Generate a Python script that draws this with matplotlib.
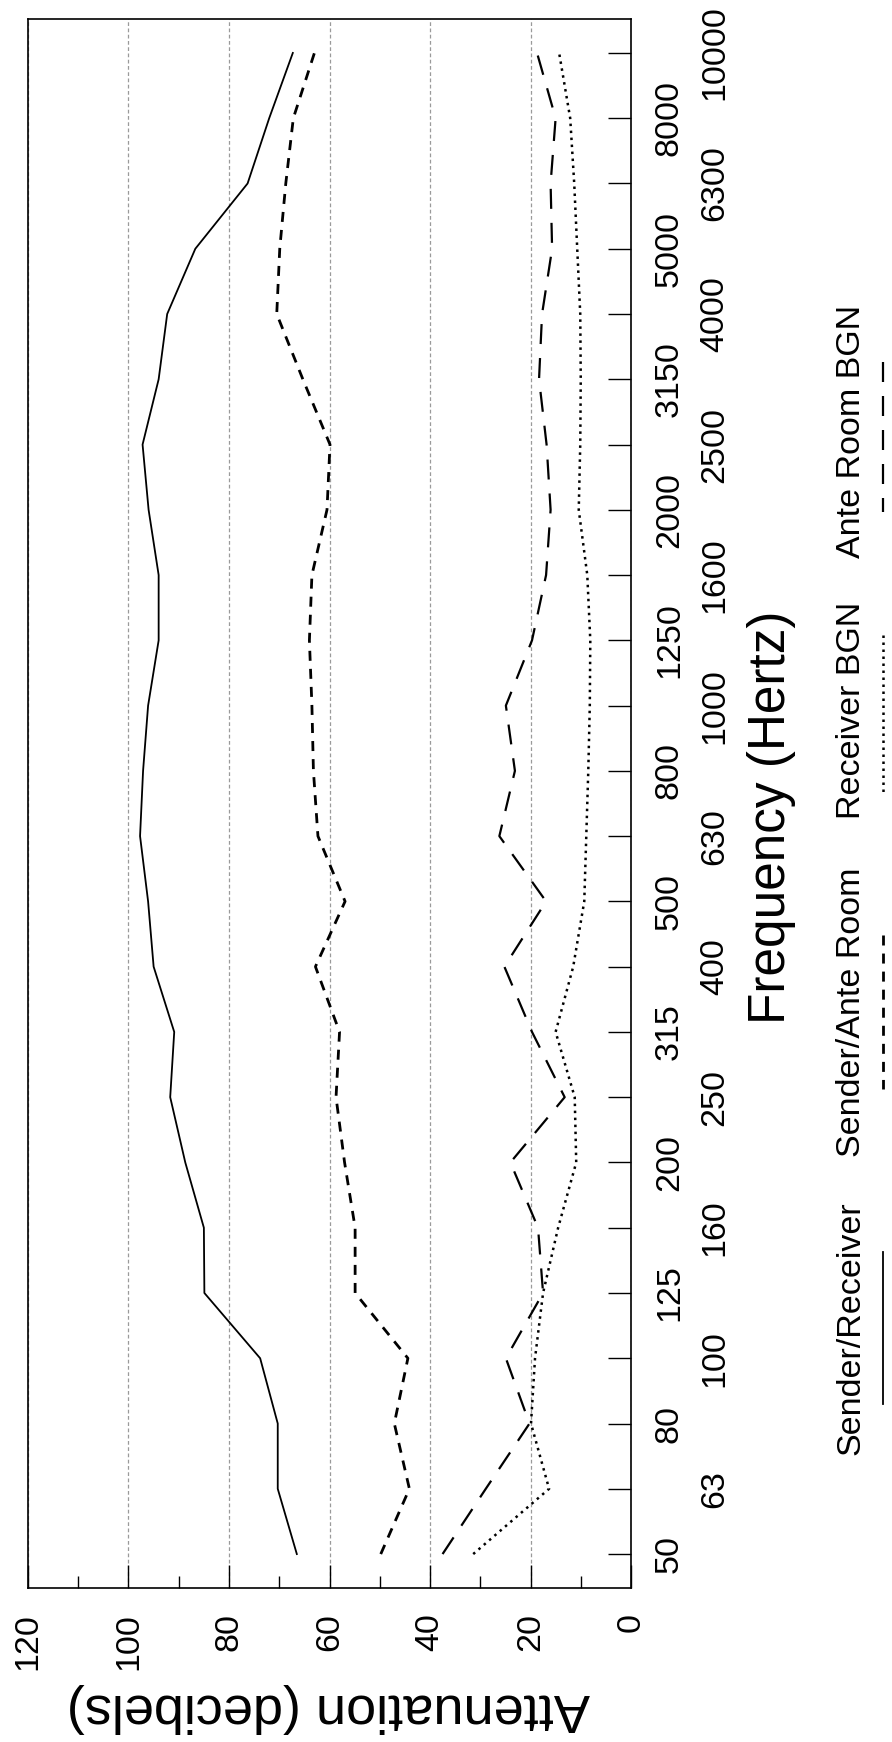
import matplotlib
matplotlib.use("Agg")
import matplotlib.pyplot as plt
from matplotlib.lines import Line2D

plt.rcParams['font.family'] = ['Liberation Sans', 'DejaVu Sans']

# ---------------- data ----------------
frequencies = ['50', '63', '80', '100', '125', '160', '200', '250', '315', '400',
               '500', '630', '800', '1000', '1250', '1600', '2000', '2500', '3150',
               '4000', '5000', '6300', '8000', '10000']

sender_receiver = [66.5, 70.3, 70.3, 73.8, 84.9, 85.0, 88.7, 91.7, 90.9, 95.0,
                   96.1, 97.7, 97.1, 96.1, 94.0, 94.0, 96.0, 97.2, 94.0, 92.3,
                   86.7, 76.3, 72.0, 67.3]

sender_ante_room = [49.8, 44.1, 47.1, 44.4, 54.9, 54.9, 57.0, 58.7, 58.0, 62.8,
                    56.9, 62.3, 63.2, 63.5, 64.0, 63.5, 60.5, 59.9, 65.3, 70.5,
                    69.9, 68.7, 67.2, 63.0]

receiver_bgn = [31.4, 16.3, 19.9, 19.1, 17.5, 14.5, 10.9, 11.2, 15.0, 11.5,
                9.3, 8.9, 8.5, 8.2, 8.1, 8.7, 10.4, 10.1, 10.0, 10.1,
                10.7, 11.3, 12.1, 14.3]

ante_room_bgn = [37.5, 28.9, 20.2, 24.9, 17.5, 18.5, 24.0, 13.2, 19.7, 25.2,
                 16.9, 26.2, 23.1, 24.9, 19.7, 16.9, 16.0, 16.8, 18.3, 17.7,
                 15.7, 16.0, 15.0, 18.7]

attenuation_ticks = [0, 20, 40, 60, 80, 100, 120]
attenuation_minor = [10, 30, 50, 70, 90, 110]

series_labels = ['Sender/Receiver', 'Sender/Ante Room', 'Receiver BGN', 'Ante Room BGN']

# ---------------- layout ----------------
W, H = 892, 1742
def fx(px):
    return px / W
def fy(py):
    return 1 - py / H

fig = plt.figure(figsize=(W / 100, H / 100), dpi=100)
ax = fig.add_axes([fx(28), fy(1588), 603 / W, 1569 / H])

pos = list(range(len(frequencies)))

styles = [
    dict(color='black', lw=1.3, ls='-'),
    dict(color='black', lw=2.0, ls=(0, (3.6, 2.9))),
    dict(color='black', lw=1.8, ls=(0, (1.0, 1.8))),
    dict(color='black', lw=1.6, ls=(0, (9.0, 6.3))),
]
series = [sender_receiver, sender_ante_room, receiver_bgn, ante_room_bgn]

for vals, st, lab in zip(series, styles, series_labels):
    ax.plot(vals, pos, label=lab, **st)

ax.set_xlim(120, 0)
ax.set_ylim(-0.52, 23.52)

for sp in ax.spines.values():
    sp.set_linewidth(1.2)
    sp.set_color('black')

# attenuation axis (bottom)
ax.set_xticks(attenuation_ticks)
ax.set_xticklabels([str(v) for v in attenuation_ticks], rotation=90, fontsize=24.5)
ax.set_xticks(attenuation_minor, minor=True)
ax.tick_params(axis='x', which='major', direction='in', length=16.5, width=1.0,
               bottom=True, top=False, pad=18)
ax.tick_params(axis='x', which='minor', direction='in', length=8.6, width=1.0,
               bottom=True, top=False, labelbottom=False)
ax.grid(axis='x', which='major', color='#9a9a9a', lw=0.9, ls=(0, (3, 2)))

# frequency axis (right), staggered labels
even = pos[0::2]
odd = pos[1::2]
ax.set_yticks(even)
ax.set_yticklabels([frequencies[i] for i in even], rotation=90, va='center',
                   ha='left', fontsize=24.5)
ax.set_yticks(odd, minor=True)
ax.set_yticklabels([frequencies[i] for i in odd], minor=True, rotation=90,
                   va='center', ha='left', fontsize=24.5)
ax.tick_params(axis='y', which='both', direction='in', length=16.5, width=1.0,
               left=False, right=True, labelleft=False, labelright=True)
ax.tick_params(axis='y', which='major', pad=16.5)
ax.tick_params(axis='y', which='minor', pad=49)

# axis titles
fig.text(fx(771), fy(817), 'Frequency (Hertz)', rotation=90, ha='center',
         va='center', fontsize=37)
fig.text(fx(328), fy(1707.5), 'Attenuation (decibels)', rotation=180,
         ha='center', va='center', fontsize=39)

# legend (rotated layout)
legend_text_y = [1328, 1012, 710, 431]
legend_line_y = [(1252, 1404), (935, 1089), (635, 793), (362, 512)]
for lab, st, ty, (ya, yb) in zip(series_labels, styles, legend_text_y, legend_line_y):
    fig.text(fx(851), fy(ty), lab, rotation=90, ha='center', va='center',
             fontsize=24.5)
    fig.add_artist(Line2D([fx(883), fx(883)], [fy(ya), fy(yb)],
                          transform=fig.transFigure, **st))

fig.savefig('out.png', dpi=100)
